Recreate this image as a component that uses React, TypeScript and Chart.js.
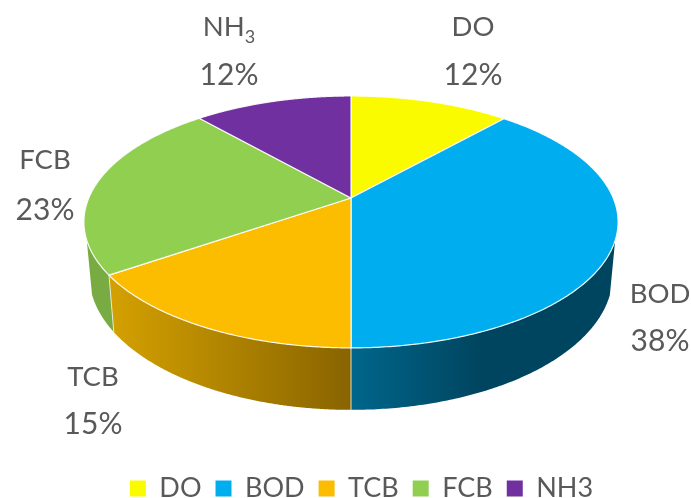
import React, { useEffect, useRef } from "react";
import { Chart, registerables } from "chart.js";

Chart.register(...registerables);

const categories = ["DO", "BOD", "TCB", "FCB", "NH3"];
const shares = [11.6, 38.4, 15.4, 23.1, 11.5];
const topColors = ["#FBFB00", "#00AEEF", "#FCBD00", "#90CF50", "#7030A0"];

const FONT = "Lato";
const TEXT = "#595959";
const CX = 351, CY = 198, A = 262.2, B = 121.4, K = -0.19;
const SHRINK = 0.98, WALL_START_Y = 240;

const project = (a: number) => {
  const u = Math.cos(a), v = Math.sin(a), d = 1 + K * v;
  return { x: CX + (A * u) / d, y: CY + (B * v) / d };
};
const lower = (p: { x: number; y: number }) => ({
  x: CX + (p.x - CX) * SHRINK,
  y: p.y + 62 - ((348 - p.y) * 5) / 72,
});

const wallStyles: Record<number, { x0: number; x1: number; c0: string; c1: string }> = {
  1: { x0: 351, x1: 480, c0: "#00668C", c1: "#00455F" },
  2: { x0: 114, x1: 351, c0: "#D3A000", c1: "#886400" },
  3: { x0: 85, x1: 114, c0: "#78AC42", c1: "#78AC42" },
};

const pieLabels = [
  { name: "DO", pct: "12%", x: 473, y1: 27, y2: 75 },
  { name: "BOD", pct: "38%", x: 660, y1: 294, y2: 341 },
  { name: "TCB", pct: "15%", x: 93, y1: 377, y2: 424 },
  { name: "FCB", pct: "23%", x: 45, y1: 160, y2: 210 },
  { name: "NH", sub: "3", pct: "12%", x: 229, y1: 27, y2: 75 },
];

const perspectivePie = {
  id: "perspectivePie",
  beforeDatasetsDraw(chart: any) {
    const ctx: CanvasRenderingContext2D = chart.ctx;
    const arcs = chart.getDatasetMeta(0).data;
    const rims = arcs.map((arc: any) => {
      const pts = [];
      const n = 240;
      for (let i = 0; i <= n; i++) pts.push(project(arc.startAngle + ((arc.endAngle - arc.startAngle) * i) / n));
      return pts;
    });
    // side walls
    rims.forEach((rim: any[], i: number) => {
      const seg = rim.filter((p) => p.y >= WALL_START_Y);
      const st = wallStyles[i];
      if (!seg.length || !st) return;
      const g = ctx.createLinearGradient(st.x0, 0, st.x1, 0);
      g.addColorStop(0, st.c0);
      g.addColorStop(1, st.c1);
      ctx.beginPath();
      seg.forEach((p, j) => (j ? ctx.lineTo(p.x, p.y) : ctx.moveTo(p.x, p.y)));
      seg.slice().reverse().forEach((p) => {
        const q = lower(p);
        ctx.lineTo(q.x, q.y);
      });
      ctx.closePath();
      ctx.fillStyle = g;
      ctx.fill();
    });
    // wall seams
    ctx.strokeStyle = "rgba(235,235,225,0.9)";
    ctx.lineWidth = 1;
    rims.forEach((rim: any[]) => {
      const p = rim[rim.length - 1];
      if (p.y < WALL_START_Y + 5) return;
      if (!(p.x > 90 && p.x < 610)) return;
      const q = lower(p);
      ctx.beginPath();
      ctx.moveTo(p.x, p.y);
      ctx.lineTo(q.x, q.y);
      ctx.stroke();
    });
    // top faces
    rims.forEach((rim: any[], i: number) => {
      ctx.beginPath();
      ctx.moveTo(CX, CY);
      rim.forEach((p) => ctx.lineTo(p.x, p.y));
      ctx.closePath();
      ctx.fillStyle = topColors[i];
      ctx.fill();
      ctx.strokeStyle = "rgba(255,255,255,0.9)";
      ctx.lineWidth = 1.2;
      ctx.lineJoin = "round";
      ctx.stroke();
    });
    // slice labels
    ctx.fillStyle = TEXT;
    ctx.textBaseline = "middle";
    ctx.textAlign = "left";
    pieLabels.forEach((l) => {
      ctx.font = `27.5px ${FONT}`;
      const w1 = ctx.measureText(l.name).width;
      ctx.font = `18px ${FONT}`;
      const w2 = l.sub ? ctx.measureText(l.sub).width : 0;
      const left = l.x - (w1 + w2) / 2;
      ctx.font = `27.5px ${FONT}`;
      ctx.fillText(l.name, left, l.y1);
      ctx.font = `30px ${FONT}`;
      ctx.fillText(l.pct, l.x - ctx.measureText(l.pct).width / 2, l.y2);
      if (l.sub) {
        ctx.font = `18px ${FONT}`;
        ctx.fillText(l.sub, left + w1, l.y1 + 10);
      }
    });
    return false;
  },
};

export default function App() {
  const ref = useRef<HTMLCanvasElement>(null);
  useEffect(() => {
    const chart = new Chart(ref.current!, {
      type: "pie",
      data: {
        labels: categories,
        datasets: [{ data: shares, backgroundColor: topColors, borderWidth: 0 }],
      },
      options: {
        responsive: false,
        animation: false,
        layout: { padding: { left: 32, right: 0, top: 0, bottom: -14 } },
        plugins: {
          tooltip: { enabled: false },
          legend: {
            position: "bottom",
            fullSize: false,
            labels: {
              boxWidth: 16,
              boxHeight: 16,
              padding: 14,
              color: TEXT,
              font: { family: FONT, size: 27 },
            },
          },
        },
      },
      plugins: [perspectivePie],
    } as any);
    return () => chart.destroy();
  }, []);
  return (
    <div style={{ position: "fixed", left: 0, top: 0, width: 691, height: 498, background: "#fff" }}>
      <canvas ref={ref} width={691} height={498} style={{ display: "block" }} />
    </div>
  );
}
